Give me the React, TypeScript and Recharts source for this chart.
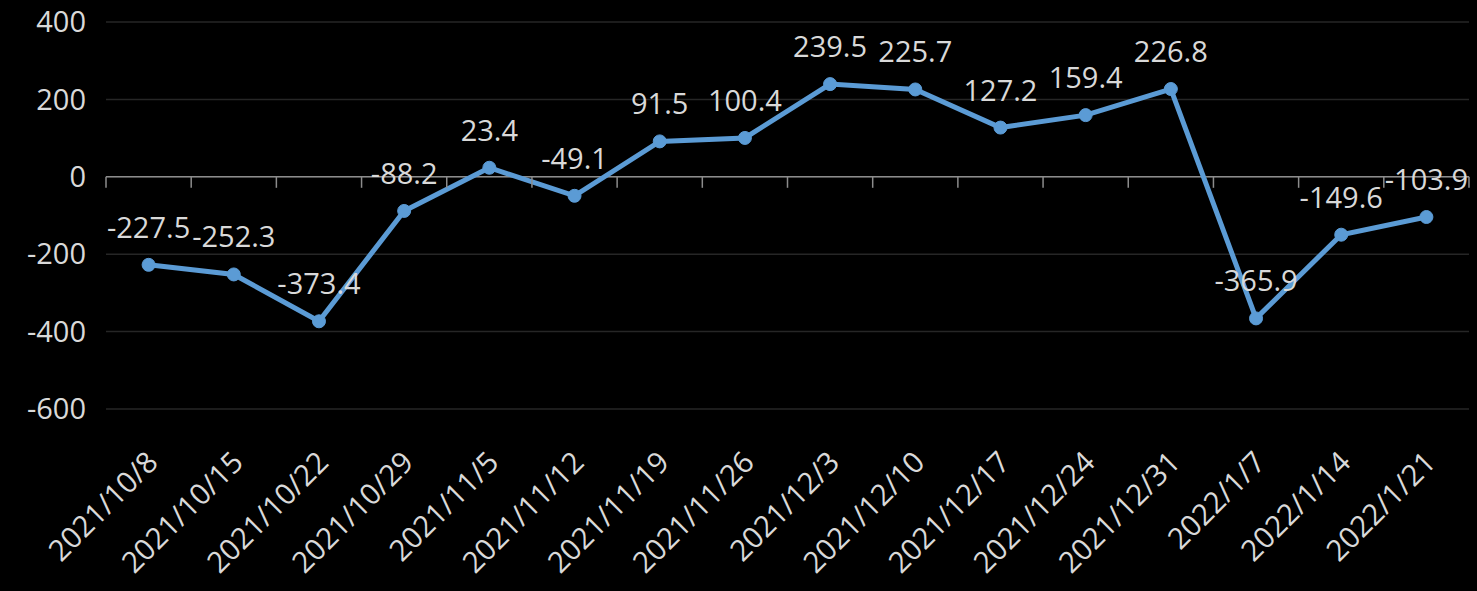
import React from 'react';
import {
  LineChart,
  Line,
  XAxis,
  YAxis,
  CartesianGrid,
  ReferenceLine,
  LabelList
} from 'recharts';

const dates = [
  '2021/10/8', '2021/10/15', '2021/10/22', '2021/10/29', '2021/11/5', '2021/11/12',
  '2021/11/19', '2021/11/26', '2021/12/3', '2021/12/10', '2021/12/17', '2021/12/24',
  '2021/12/31', '2022/1/7', '2022/1/14', '2022/1/21'
];
const values = [
  -227.5, -252.3, -373.4, -88.2, 23.4, -49.1, 91.5, 100.4,
  239.5, 225.7, 127.2, 159.4, 226.8, -365.9, -149.6, -103.9
];
const yTicks = [-600, -400, -200, 0, 200, 400];

const data = dates.map((d, i) => ({ date: d, value: values[i] }));

const W = 1477;
const H = 591;
const M = { top: 22, right: 8, left: 0, bottom: 0 };
const Y_W = 106;
const X_H = 182;
const PLOT_W = W - M.left - M.right - Y_W;
const PLOT_H = H - M.top - M.bottom - X_H;
const ZERO_Y = M.top + PLOT_H * (400 / 1000);
const BAND = PLOT_W / dates.length;

const FONT = '"Open Sans", sans-serif';
const TEXT = '#d9d9d9';

// category label at the bottom + boundary tick marks on the zero line
function DateTick(props: any) {
  const { x, y, payload, index } = props;
  const lx = x + 3;
  const ly = y + 45;
  const left = x - BAND / 2;
  return (
    <g>
      <line x1={left} y1={ZERO_Y} x2={left} y2={ZERO_Y + 11} stroke="#8c8c8c" strokeWidth={1.5} />
      {index === dates.length - 1 && (
        <line x1={x + BAND / 2} y1={ZERO_Y} x2={x + BAND / 2} y2={ZERO_Y + 11} stroke="#8c8c8c" strokeWidth={1.5} />
      )}
      <text
        x={lx}
        y={ly}
        textAnchor="end"
        dominantBaseline="central"
        transform={`rotate(-45 ${lx} ${ly})`}
        fill={TEXT}
        fontSize={29.5}
        fontFamily={FONT}
      >
        {payload.value}
      </text>
    </g>
  );
}

export default function App() {
  return (
    <div style={{ position: 'absolute', left: 0, top: 0, width: W, height: H, background: '#000' }}>
      <LineChart width={W} height={H} data={data} margin={M}>
        <CartesianGrid vertical={false} stroke="#262626" strokeWidth={1.5} />
        <XAxis
          dataKey="date"
          interval={0}
          height={X_H}
          padding={{ left: BAND / 2, right: BAND / 2 }}
          axisLine={false}
          tickLine={false}
          tickSize={0}
          tick={<DateTick />}
        />
        <YAxis
          width={Y_W}
          domain={[-600, 400]}
          ticks={yTicks}
          axisLine={false}
          tickLine={false}
          tickSize={0}
          tickMargin={20}
          tick={{ fill: TEXT, fontSize: 29, fontFamily: FONT }}
        />
        <ReferenceLine y={0} stroke="#8c8c8c" strokeWidth={1.5} />
        <Line
          type="linear"
          dataKey="value"
          stroke="#5b9bd5"
          strokeWidth={5}
          dot={{ r: 6.5, fill: '#5b9bd5', stroke: '#5b9bd5', strokeWidth: 1 }}
          isAnimationActive={false}
        >
          <LabelList
            dataKey="value"
            position="top"
            offset={27}
            fill={TEXT}
            fontSize={29}
            fontFamily={FONT}
            formatter={(v: any) => Number(v).toFixed(1)}
          />
        </Line>
      </LineChart>
    </div>
  );
}
